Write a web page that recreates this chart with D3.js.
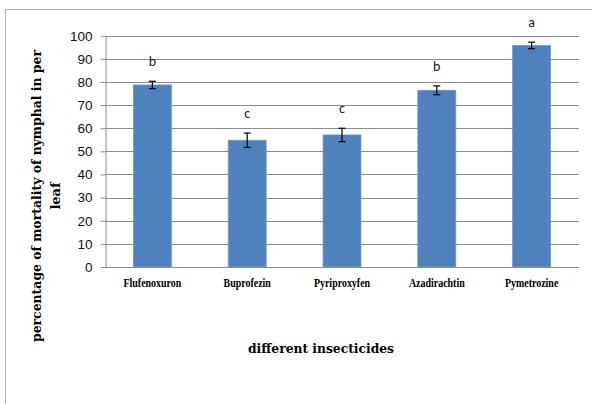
<!DOCTYPE html>
<html>
<head>
<meta charset="utf-8">
<script src="https://cdn.jsdelivr.net/npm/d3@7/dist/d3.min.js"></script>
<style>
  html, body { margin: 0; padding: 0; background: #fff; }
  svg { display: block; }
</style>
</head>
<body>
<svg id="chart" width="592" height="404"></svg>
<script>
// Mortality of nymphs per leaf for each insecticide (mean ± error)
const insecticides = ["Flufenoxuron", "Buprofezin", "Pyriproxyfen", "Azadirachtin", "Pymetrozine"];
const mortality = [78.7, 54.8, 57.1, 76.4, 95.8];
const errors = [1.6, 3.1, 2.9, 1.9, 1.4];
const groups = ["b", "c", "c", "b", "a"];
const yTicks = [0, 10, 20, 30, 40, 50, 60, 70, 80, 90, 100];

const svg = d3.select("#chart");

// Outer chart frame
svg.append("rect")
  .attr("x", 5.5).attr("y", 9.5)
  .attr("width", 620).attr("height", 420)
  .attr("fill", "#fff")
  .attr("stroke", "#b3b3b3")
  .attr("stroke-width", 1);

const plot = { left: 105, right: 579, top: 35.7, bottom: 267 };

const x = d3.scaleBand()
  .domain(insecticides)
  .range([plot.left, plot.right])
  .padding(0);

const y = d3.scaleLinear()
  .domain([0, 100])
  .range([plot.bottom, plot.top]);

const barW = x.bandwidth() * 0.4;

// Horizontal gridlines
svg.append("g")
  .selectAll("line")
  .data(yTicks.filter(t => t > 0))
  .join("line")
  .attr("x1", plot.left).attr("x2", plot.right)
  .attr("y1", d => Math.round(y(d)) + 0.5)
  .attr("y2", d => Math.round(y(d)) + 0.5)
  .attr("stroke", "#8c8c8c")
  .attr("stroke-width", 1);

// Y axis
const yAxis = svg.append("g")
  .attr("transform", `translate(${plot.left + 0.5},0)`)
  .call(d3.axisLeft(y).tickValues(yTicks).tickSize(5).tickPadding(8).tickSizeOuter(0));
yAxis.select(".domain").attr("stroke", "#8c8c8c");
yAxis.selectAll(".tick line").attr("stroke", "#8c8c8c");
yAxis.selectAll(".tick text")
  .attr("fill", "#111")
  .style("font-family", "'Liberation Sans', Arial, sans-serif")
  .style("font-size", "13.5px");

// X axis
const xAxis = svg.append("g")
  .attr("transform", `translate(0,${Math.round(plot.bottom) + 0.5})`)
  .call(d3.axisBottom(x).tickSize(0).tickPadding(11));
xAxis.select(".domain")
  .attr("stroke", "#8c8c8c")
  .attr("d", `M${plot.left},0H${plot.right}`);
xAxis.selectAll(".tick text")
  .attr("fill", "#000")
  .attr("transform", "scale(0.83,1)")
  .style("font-family", "'Liberation Serif', 'Times New Roman', serif")
  .style("font-weight", "bold")
  .style("font-size", "12px");

// Bars
svg.append("g")
  .selectAll("rect")
  .data(insecticides)
  .join("rect")
  .attr("x", d => x(d) + (x.bandwidth() - barW) / 2)
  .attr("y", (d, i) => y(mortality[i]))
  .attr("width", barW)
  .attr("height", (d, i) => y(0) - y(mortality[i]))
  .attr("fill", "#4f81bd")
  .attr("stroke", "#6f98cc")
  .attr("stroke-width", 0.8);

// Error bars
const eb = svg.append("g").attr("stroke", "#000").attr("stroke-width", 1.2);
insecticides.forEach((d, i) => {
  const cx = x(d) + x.bandwidth() / 2;
  const hi = y(mortality[i] + errors[i]);
  const lo = y(mortality[i] - errors[i]);
  eb.append("line").attr("x1", cx).attr("x2", cx).attr("y1", hi).attr("y2", lo);
  eb.append("line").attr("x1", cx - 3.5).attr("x2", cx + 3.5).attr("y1", hi).attr("y2", hi);
  eb.append("line").attr("x1", cx - 3.5).attr("x2", cx + 3.5).attr("y1", lo).attr("y2", lo);
});

// Significance letters
svg.append("g")
  .selectAll("text")
  .data(insecticides)
  .join("text")
  .attr("x", d => x(d) + x.bandwidth() / 2)
  .attr("y", (d, i) => y(mortality[i] + errors[i]) - 15)
  .attr("text-anchor", "middle")
  .attr("fill", "#1a1a1a")
  .style("font-family", "Carlito, Calibri, 'Liberation Sans', sans-serif")
  .style("font-size", "14px")
  .text((d, i) => groups[i]);

// Axis titles
const titleFont = "'DejaVu Serif', 'Liberation Serif', serif";
const yTitle = svg.append("text")
  .attr("transform", "translate(36,196) rotate(-90)")
  .attr("text-anchor", "middle")
  .attr("fill", "#000")
  .style("font-family", titleFont)
  .style("font-weight", "bold")
  .style("font-size", "13px");
yTitle.append("tspan").attr("x", 0).attr("dy", "0.35em")
  .attr("textLength", 292).attr("lengthAdjust", "spacingAndGlyphs")
  .text("percentage of mortality of nymphal in per");
yTitle.append("tspan").attr("x", 0).attr("dy", "19")
  .text("leaf");

svg.append("text")
  .attr("x", 321)
  .attr("y", 353)
  .attr("text-anchor", "middle")
  .attr("textLength", 146).attr("lengthAdjust", "spacingAndGlyphs")
  .attr("fill", "#000")
  .style("font-family", titleFont)
  .style("font-weight", "bold")
  .style("font-size", "13.5px")
  .text("different insecticides");
</script>
</body>
</html>
